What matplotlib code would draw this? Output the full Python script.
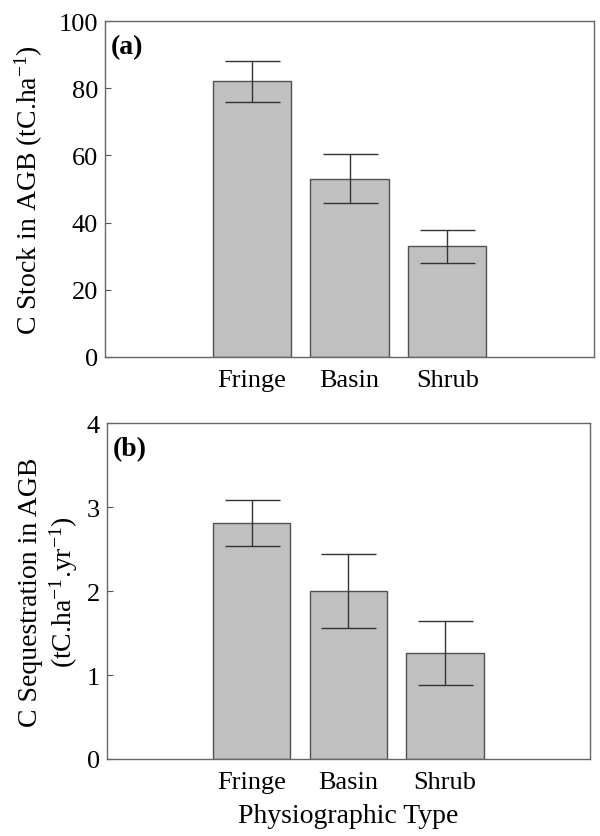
import numpy as np
import matplotlib
matplotlib.use('Agg')
import matplotlib.pyplot as plt

plt.rcParams['font.family'] = ['Liberation Serif', 'DejaVu Serif']
plt.rcParams['mathtext.fontset'] = 'custom'
plt.rcParams['mathtext.rm'] = 'Liberation Serif'
plt.rcParams['mathtext.it'] = 'Liberation Serif:italic'
plt.rcParams['mathtext.bf'] = 'Liberation Serif:bold'

types = ['Fringe', 'Basin', 'Shrub']
stock = [82.0, 53.1, 33.0]
stock_err = [6.0, 7.3, 4.9]
seq = [2.81, 2.00, 1.26]
seq_err = [0.27, 0.44, 0.38]

x = np.arange(1, len(types) + 1)

fig = plt.figure(figsize=(6, 8.37), dpi=100)
ax1 = fig.add_axes([0.175, 0.5723, 0.815, 0.4014])
ax2 = fig.add_axes([0.178, 0.092, 0.8055, 0.4014])

def draw(ax, vals, errs, ymax, step, ylabel, tag):
    ax.bar(x, vals, width=0.8, color='#c0c0c0', edgecolor='#505050', linewidth=1.0)
    ax.errorbar(x, vals, yerr=errs, fmt='none', ecolor='#333333', elinewidth=1.0,
                capsize=19.8, capthick=1.0)
    ax.set_xlim(-0.5, 4.5)
    ax.set_ylim(0, ymax)
    ax.set_yticks(np.arange(0, ymax + step / 2, step))
    ax.set_xticks(x)
    ax.set_xticklabels(types)
    ax.tick_params(axis='x', length=0, pad=9, labelsize=19)
    ax.tick_params(axis='y', direction='in', length=4, width=0.8, color='#555555',
                   pad=5, labelsize=19)
    for s in ax.spines.values():
        s.set_color('#666666')
        s.set_linewidth(1.0)
    ax.set_ylabel(ylabel, fontsize=20, linespacing=1.2)
    ax.text(0.012, 0.96, tag, transform=ax.transAxes, fontsize=20,
            fontweight='bold', va='top', ha='left')

draw(ax1, stock, stock_err, 100, 20, 'C Stock in AGB (tC.ha$^{-1}$)', '(a)')
draw(ax2, seq, seq_err, 4, 1,
     'C Sequestration in AGB\n(tC.ha$^{-1}$.yr$^{-1}$)', '(b)')
ax1.yaxis.set_label_coords(-0.123, 0.5)
ax2.yaxis.set_label_coords(-0.055, 0.5)
ax2.set_xlabel('Physiographic Type', fontsize=20, labelpad=7)

fig.savefig('out.png', dpi=100)
